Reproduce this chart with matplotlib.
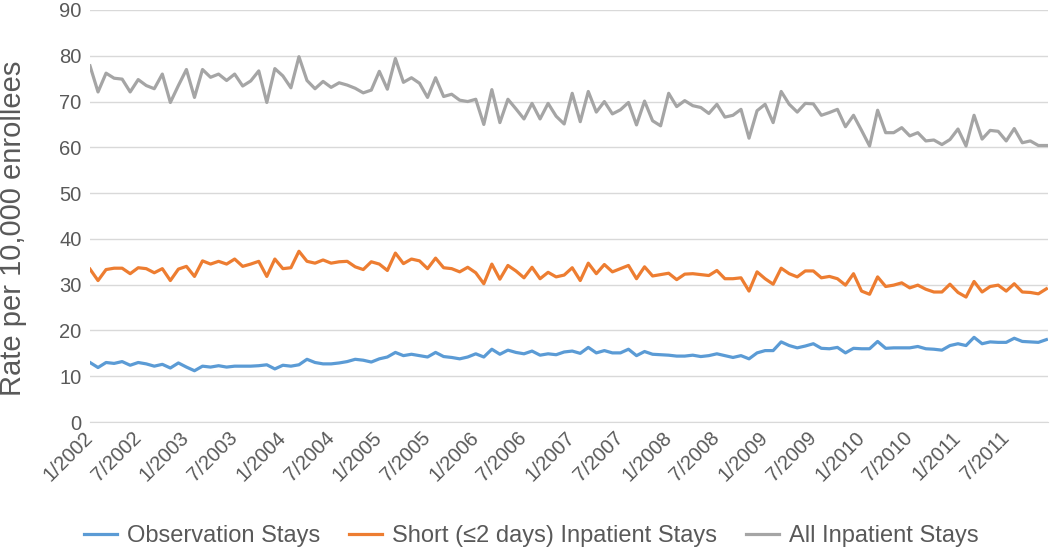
import matplotlib
matplotlib.use("Agg")
import matplotlib.pyplot as plt
import numpy as np

plt.rcParams['font.family'] = ['Liberation Sans', 'DejaVu Sans']

# monthly values, 1/2002 .. 12/2011
observation = [
    13.0, 11.9, 13.0, 12.8, 13.2, 12.4, 13.0, 12.7, 12.2, 12.6, 11.8, 12.9,
    12.0, 11.2, 12.2, 12.0, 12.3, 12.0, 12.2, 12.2, 12.2, 12.3, 12.5, 11.6,
    12.4, 12.2, 12.5, 13.7, 13.0, 12.7, 12.7, 12.9, 13.2, 13.7, 13.5, 13.1,
    13.8, 14.2, 15.2, 14.5, 14.8, 14.5, 14.2, 15.2, 14.3, 14.1, 13.8, 14.2,
    14.9, 14.2, 15.9, 14.8, 15.7, 15.2, 14.9, 15.5, 14.6, 14.9, 14.7, 15.3,
    15.5, 15.0, 16.3, 15.1, 15.6, 15.1, 15.1, 15.9, 14.5, 15.4, 14.8, 14.7,
    14.6, 14.4, 14.4, 14.6, 14.3, 14.5, 14.9, 14.5, 14.1, 14.5, 13.8, 15.1,
    15.6, 15.6, 17.5, 16.7, 16.2, 16.6, 17.1, 16.1, 16.0, 16.3, 15.1, 16.1,
    16.0, 16.0, 17.6, 16.1, 16.2, 16.2, 16.2, 16.5, 16.0, 15.9, 15.7, 16.7,
    17.1, 16.7, 18.5, 17.1, 17.5, 17.4, 17.4, 18.3, 17.6, 17.5, 17.4, 18.0,
]
short_stays = [
    33.4, 30.9, 33.3, 33.6, 33.6, 32.4, 33.7, 33.5, 32.6, 33.5, 30.9, 33.4,
    34.0, 31.8, 35.2, 34.5, 35.1, 34.5, 35.6, 34.0, 34.5, 35.1, 31.8, 35.6,
    33.5, 33.7, 37.3, 35.1, 34.7, 35.4, 34.7, 35.0, 35.1, 33.9, 33.3, 35.0,
    34.5, 33.1, 36.9, 34.6, 35.6, 35.2, 33.5, 35.8, 33.7, 33.5, 32.8, 33.8,
    32.6, 30.2, 34.5, 31.2, 34.2, 33.0, 31.5, 33.8, 31.3, 32.7, 31.7, 32.1,
    33.7, 30.9, 34.7, 32.4, 34.4, 32.8, 33.5, 34.2, 31.3, 33.9, 31.9, 32.2,
    32.5, 31.1, 32.3, 32.4, 32.2, 32.0, 33.1, 31.3, 31.3, 31.5, 28.6, 32.8,
    31.3, 30.1, 33.6, 32.4, 31.7, 33.0, 33.0, 31.5, 31.8, 31.3, 29.9, 32.4,
    28.6, 27.9, 31.7, 29.6, 29.9, 30.4, 29.3, 29.9, 29.0, 28.4, 28.4, 30.1,
    28.3, 27.3, 30.7, 28.4, 29.6, 29.9, 28.6, 30.2, 28.4, 28.3, 28.0, 29.1,
]
all_stays = [
    77.8, 72.1, 76.2, 75.1, 74.9, 72.1, 74.8, 73.5, 72.8, 76.0, 69.8, 73.5,
    77.0, 70.9, 77.0, 75.3, 76.0, 74.6, 76.0, 73.4, 74.5, 76.7, 69.8, 77.2,
    75.6, 73.0, 79.8, 74.6, 72.8, 74.4, 73.1, 74.1, 73.6, 72.9, 71.9, 72.5,
    76.6, 72.7, 79.4, 74.2, 75.2, 74.0, 70.9, 75.2, 71.1, 71.6, 70.3, 70.0,
    70.5, 65.0, 72.6, 65.4, 70.5, 68.4, 66.2, 69.6, 66.2, 69.6, 66.8, 65.1,
    71.8, 65.6, 72.2, 67.7, 70.0, 67.3, 68.2, 69.8, 64.9, 70.1, 65.8, 64.7,
    71.8, 68.9, 70.2, 69.1, 68.7, 67.4, 69.4, 66.6, 67.0, 68.3, 62.0, 68.0,
    69.4, 65.4, 72.2, 69.4, 67.7, 69.6, 69.5, 67.0, 67.6, 68.3, 64.5, 67.0,
    63.7, 60.3, 68.1, 63.2, 63.2, 64.3, 62.5, 63.2, 61.4, 61.6, 60.6, 61.7,
    64.0, 60.3, 67.0, 61.8, 63.7, 63.5, 61.4, 64.1, 61.0, 61.4, 60.4, 60.4,
]
years = list(range(2002, 2012))
tick_labels = []
for y in years:
    tick_labels += ["1/%d" % y, "7/%d" % y]

fig = plt.figure(figsize=(10.5, 5.49), dpi=100)
ax = fig.add_axes([0.0857, 0.2313, 0.9124, 0.7505])

x = np.arange(len(observation))
ax.plot(x, observation, color='#5B9BD5', lw=2.3, label='Observation Stays')
ax.plot(x, short_stays, color='#ED7D31', lw=2.3, label='Short (\u22642 days) Inpatient Stays')
ax.plot(x, all_stays, color='#A5A5A5', lw=2.3, label='All Inpatient Stays')

ax.set_ylim(0, 90)
ax.set_yticks(range(0, 91, 10))
ax.set_xlim(0, len(x) - 0.8)
ax.set_xticks(x[::6])
ax.set_xticklabels(tick_labels, rotation=45, ha='right', va='center', rotation_mode='anchor')
ax.grid(axis='y', color='#D9D9D9', lw=1)
ax.set_axisbelow(True)
for s in ['top', 'right', 'left']:
    ax.spines[s].set_visible(False)
ax.spines['bottom'].set_color('#D9D9D9')
ax.tick_params(axis='both', length=0, labelsize=14.5, colors='#595959', pad=6)
ax.tick_params(axis='x', pad=9)
ax.set_ylabel('Rate per 10,000 enrollees', fontsize=21, color='#595959')
ax.yaxis.set_label_coords(-0.066, 0.47)

fig.legend(loc='lower center', ncol=3, bbox_to_anchor=(0.506, -0.035), frameon=False,
           fontsize=17, handlelength=1.4, handletextpad=0.45, columnspacing=1.2,
           labelcolor='#595959')

plt.savefig('out.png', dpi=100)
